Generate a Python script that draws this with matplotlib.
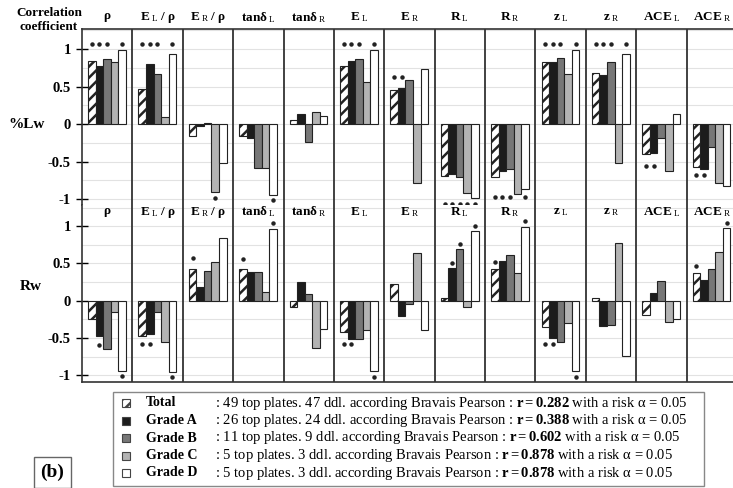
import matplotlib
matplotlib.use('Agg')
import matplotlib.pyplot as plt
from matplotlib.patches import Rectangle

plt.rcParams['font.family'] = 'Liberation Serif'
plt.rcParams['mathtext.fontset'] = 'custom'
plt.rcParams['mathtext.rm'] = 'Liberation Serif'
plt.rcParams['mathtext.it'] = 'Liberation Serif:italic'
plt.rcParams['mathtext.bf'] = 'Liberation Serif:bold'
plt.rcParams['hatch.linewidth'] = 1.8

# parameters (column headers)
headers = [r'$\mathbf{ρ}$', r'$\mathbf{E}_{\ \mathrm{L}}\mathbf{\ /\ ρ}$', r'$\mathbf{E}_{\ \mathrm{R}}\mathbf{\ /\ ρ}$',
           r'$\mathbf{tanδ}_{\ \mathrm{L}}$', r'$\mathbf{tanδ}_{\ \mathrm{R}}$', r'$\mathbf{E}_{\ \mathrm{L}}$',
           r'$\mathbf{E}_{\ \mathrm{R}}$', r'$\mathbf{R}_{\ \mathrm{L}}$', r'$\mathbf{R}_{\ \mathrm{R}}$',
           r'$\mathbf{z}_{\ \mathrm{L}}$', r'$\mathbf{z}_{\ \mathrm{R}}$', r'$\mathbf{ACE}_{\ \mathrm{L}}$',
           r'$\mathbf{ACE}_{\ \mathrm{R}}$']
grades = ['Total', 'Grade A', 'Grade B', 'Grade C', 'Grade D']

# correlation with %Lw
lw_total = [0.84, 0.47, -0.16, -0.16, 0.06, 0.78, 0.45, -0.69, -0.70, 0.83, 0.68, -0.40, -0.57]
lw_a = [0.78, 0.80, -0.02, -0.18, 0.14, 0.84, 0.48, -0.66, -0.63, 0.83, 0.65, -0.39, -0.60]
lw_b = [0.87, 0.67, 0.02, -0.58, -0.24, 0.87, 0.59, -0.71, -0.60, 0.88, 0.83, -0.19, -0.31]
lw_c = [0.83, 0.09, -0.91, -0.58, 0.16, 0.56, -0.79, -0.92, -0.93, 0.67, -0.52, -0.62, -0.79]
lw_d = [0.99, 0.94, -0.52, -0.95, 0.11, 0.99, 0.73, -0.98, -0.86, 0.99, 0.94, 0.13, -0.83]

# correlation with Rw
rw_total = [-0.24, -0.47, 0.43, 0.43, -0.08, -0.42, 0.22, 0.04, 0.43, -0.35, 0.04, -0.19, 0.37]
rw_a = [-0.48, -0.44, 0.18, 0.385, 0.25, -0.51, -0.21, 0.44, 0.53, -0.50, -0.34, 0.10, 0.28]
rw_b = [-0.65, -0.15, 0.40, 0.385, 0.09, -0.51, -0.05, 0.69, 0.62, -0.56, -0.33, 0.26, 0.43]
rw_c = [-0.15, -0.56, 0.52, 0.12, -0.63, -0.39, 0.64, -0.09, 0.37, -0.30, 0.78, -0.29, 0.66]
rw_d = [-0.94, -0.96, 0.84, 0.96, -0.38, -0.95, -0.39, 0.93, 0.99, -0.95, -0.74, -0.25, 0.97]

# significance stars: (column, bar, y)
lw_stars = [(0, 0, 1.07), (0, 1, 1.07), (0, 2, 1.07), (0, 4, 1.07),
            (1, 0, 1.07), (1, 1, 1.07), (1, 2, 1.07), (1, 4, 1.07),
            (2, 3, -0.98), (3, 4, -1.01),
            (5, 0, 1.07), (5, 1, 1.07), (5, 2, 1.07), (5, 4, 1.07),
            (6, 0, 0.63), (6, 1, 0.63),
            (7, 0, -1.06), (7, 1, -1.06), (7, 2, -1.06), (7, 3, -1.06), (7, 4, -1.06),
            (8, 0, -0.97), (8, 1, -0.97), (8, 2, -0.97), (8, 4, -0.97),
            (9, 0, 1.07), (9, 1, 1.07), (9, 2, 1.07), (9, 4, 1.07),
            (10, 0, 1.07), (10, 1, 1.07), (10, 2, 1.07), (10, 4, 1.07),
            (11, 0, -0.56), (11, 1, -0.56),
            (12, 0, -0.68), (12, 1, -0.68)]
rw_stars = [(0, 1, -0.60), (0, 4, -1.01),
            (1, 0, -0.58), (1, 1, -0.58), (1, 4, -1.02),
            (2, 0, 0.57), (3, 0, 0.56), (3, 4, 1.04),
            (5, 0, -0.58), (5, 1, -0.58), (5, 4, -1.02),
            (7, 1, 0.51), (7, 2, 0.76), (7, 4, 1.00),
            (8, 0, 0.52), (8, 4, 1.07),
            (9, 0, -0.58), (9, 1, -0.58), (9, 4, -1.02),
            (12, 0, 0.47), (12, 4, 1.04)]

legend_text = [
    ': 49 top plates. 47 ddl. according Bravais Pearson : $\\mathbf{r{=}0.282}$ with a risk α = 0.05',
    ': 26 top plates. 24 ddl. according Bravais Pearson : $\\mathbf{r{=}0.388}$ with a risk α = 0.05',
    ': 11 top plates. 9 ddl. according Bravais Pearson : $\\mathbf{r{=}0.602}$ with a risk α = 0.05',
    ': 5 top plates. 3 ddl. according Bravais Pearson : $\\mathbf{r{=}0.878}$ with a risk α = 0.05',
    ': 5 top plates. 3 ddl. according Bravais Pearson : $\\mathbf{r{=}0.878}$ with a risk α = 0.05',
]

faces = ['white', '#1c1c1c', '#777777', '#b3b3b3', 'white']
hatches = ['///', None, None, None, None]

W, H = 733, 488
fig = plt.figure(figsize=(W / 100, H / 100), dpi=100)


def fx(x):
    return x / W


def fy(y):
    return 1 - y / H


ax_top = fig.add_axes([fx(82), fy(205), (737 - 82) / W, 176 / H])
ax_bot = fig.add_axes([fx(82), fy(382), (737 - 82) / W, 177 / H])
ax_top.set_ylim(-1.08, 1.267)
ax_bot.set_ylim(-1.091, 1.285)

ncol = len(headers)
bw = 0.15
for ax, series, stars, hy in [(ax_top, [lw_total, lw_a, lw_b, lw_c, lw_d], lw_stars, 1.42),
                              (ax_bot, [rw_total, rw_a, rw_b, rw_c, rw_d], rw_stars, 1.19)]:
    ax.set_xlim(0, ncol)
    for g in range(-4, 6):
        ax.axhline(g * 0.25, color='#e2e2e2', lw=0.8, zorder=0)
    for k in range(1, ncol):
        ax.axvline(k, color='#333333', lw=1.3, zorder=3)
    for i, vals in enumerate(series):
        xs = [j + 0.12 + bw * i for j in range(ncol)]
        ax.bar(xs, vals, width=bw, align='edge', color=faces[i], hatch=hatches[i],
               edgecolor='#222222', lw=0.8, zorder=2)
    sx = [c + 0.12 + bw * b + bw / 2 for c, b, y in stars]
    sy = [y for c, b, y in stars]
    ax.plot(sx, sy, ls='none', marker='o', ms=2.2, color='#222222', zorder=4)
    for j, lab in enumerate(headers):
        ax.text(j + 0.5, hy, lab, ha='center', va='center', fontsize=9.5, clip_on=False)
    ax.set_xticks([])
    ax.set_yticks([-1, -0.5, 0, 0.5, 1])
    ax.set_yticklabels(['-1', '-0.5', '0', '0.5', '1'], fontweight='bold', fontsize=10.5)
    ax.tick_params(axis='y', direction='inout', length=8, width=1, pad=4)
    ax.spines['right'].set_visible(False)
    for s in ax.spines.values():
        s.set_color('#333333')
        s.set_linewidth(1.2)

ax_top.spines['bottom'].set_visible(False)
ax_bot.spines['top'].set_visible(False)

fig.text(fx(49), fy(20), 'Correlation\ncoefficient', ha='center', va='center',
         fontsize=9.5, fontweight='bold', linespacing=1.2)
fig.text(fx(27), fy(124), '%Lw', ha='center', va='center', fontsize=11, fontweight='bold')
fig.text(fx(31), fy(287), 'Rw', ha='center', va='center', fontsize=11, fontweight='bold')

# legend
fig.patches.append(Rectangle((fx(113), fy(486)), (704 - 113) / W, (486 - 392) / H,
                             transform=fig.transFigure, fill=False, edgecolor='#888888', lw=1))
rows_y = [403, 420.5, 438, 455.5, 473]
for i, g in enumerate(grades):
    y = rows_y[i]
    fig.patches.append(Rectangle((fx(122), fy(y + 4)), 8 / W, 8 / H, transform=fig.transFigure,
                                 facecolor=faces[i], hatch=hatches[i], edgecolor='#444444', lw=0.8))
    fig.text(fx(146), fy(y), g, ha='left', va='center', fontsize=10, fontweight='bold')
    fig.text(fx(215), fy(y), legend_text[i], ha='left', va='center', fontsize=10.5)

fig.patches.append(Rectangle((fx(34), fy(488)), 37 / W, 31 / H, transform=fig.transFigure,
                             fill=False, edgecolor='#666666', lw=1))
fig.text(fx(52.5), fy(472.5), '(b)', ha='center', va='center', fontsize=14, fontweight='bold')

fig.savefig('out.png', dpi=100)
